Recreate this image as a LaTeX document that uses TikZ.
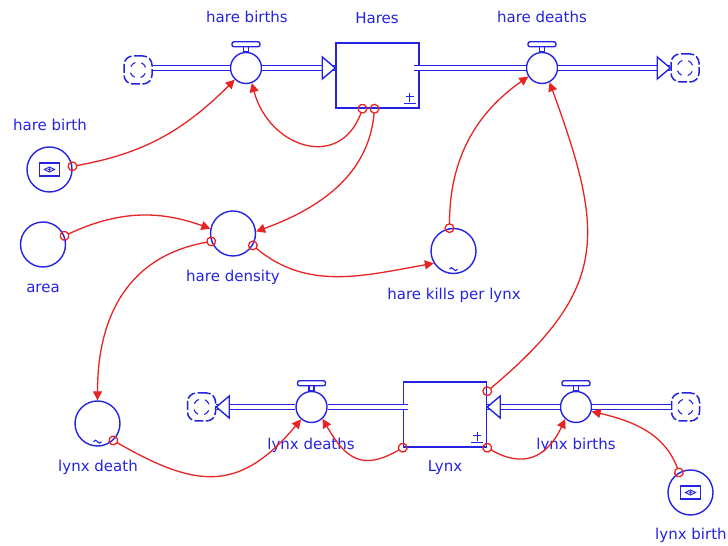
\documentclass[tikz,border=0pt]{standalone}
\usepackage{fontspec}
\setmainfont{DejaVu Sans}
\usetikzlibrary{arrows.meta}
\definecolor{sdblue}{RGB}{35,35,225}
\definecolor{sdred}{RGB}{232,35,35}
% hollow head at the end of a flow pipe: #1 = tip, #2 = 1 (right) or -1 (left)
\newcommand\pipetip[2]{\draw[sdline, fill=white] (#1) -- ++({#2*-13},11) -- ++(0,-22) -- cycle;}

\begin{document}
\begin{tikzpicture}[x=1pt,y=1pt,
  stock/.style={draw=sdblue, line width=1.5pt, minimum width=83pt, minimum height=65pt, inner sep=0pt},
  valve/.style={circle, draw=sdblue, line width=1.4pt, minimum size=31pt, inner sep=0pt, fill=white},
  conv/.style={circle, draw=sdblue, line width=1.4pt, minimum size=45pt, inner sep=0pt},
  cloudsym/.style={draw=sdblue, line width=1.5pt, rounded corners=9pt, minimum size=28pt, inner sep=0pt, dash pattern=on 9pt off 2.5pt},
  lbl/.style={text=sdblue, font=\fontsize{15}{18}\selectfont, inner sep=0pt},
  pipe/.style={draw=sdblue, line width=1.3pt, double=white, double distance=3.5pt},
  link/.style={draw=sdred, line width=1.3pt, {Circle[open,length=10pt,width=10pt]}-{Triangle[length=9pt,width=9pt]}, shorten <=-5pt},
  sdline/.style={draw=sdblue, line width=1.4pt}]
\useasboundingbox (0,0) rectangle (728,546);

% stocks, valves, sources and sinks
\node[stock] (hares) at (377.5,470.5) {};
\node[stock] (lynx) at (445,131.5) {};
\node[valve] (hbirths) at (246,478) {};
\node[valve] (hdeaths) at (542,478) {};
\node[valve] (ldeaths) at (311.5,139) {};
\node[valve] (lbirths) at (576,139) {};
\node[cloudsym] (csrc) at (138,476) {};
\node[cloudsym] (csink) at (685,478) {};
\node[cloudsym] (lsink) at (201.5,139) {};
\node[cloudsym] (lsrc) at (685.5,139) {};

% flow pipes
\draw[pipe] (csrc.east |- hbirths) -- (hbirths.west);
\draw[pipe] (hbirths.east) -- (hares.west |- hbirths);
\pipetip{hares.west |- hbirths}{1}
\draw[pipe] ([xshift=-6pt]hares.east |- hdeaths) -- (hdeaths.west);
\draw[pipe] (hdeaths.east) -- (csink.west |- hdeaths);
\pipetip{csink.west |- hdeaths}{1}
\draw[pipe] (lsink.east) -- (ldeaths.west);
\pipetip{lsink.east}{-1}
\draw[pipe] (ldeaths.east) -- ([xshift=5pt]lynx.west |- ldeaths);
\draw[pipe] (lsrc.west) -- (lbirths.east);
\draw[pipe] (lbirths.west) -- (lynx.east |- lbirths);
\pipetip{lynx.east |- lbirths}{-1}

\foreach \v in {hbirths,hdeaths,ldeaths,lbirths}{
  \draw[sdline] ([xshift=-2.5pt]\v.north) rectangle ([xshift=2.5pt,yshift=5pt]\v.north);
  \draw[sdline, rounded corners=2pt] ([xshift=-14pt,yshift=5pt]\v.north) rectangle ([xshift=14pt,yshift=10pt]\v.north);
}
\foreach \s in {hares,lynx}{
  \draw[sdline, line width=1.1pt] ([shift={(-10pt,7pt)}]\s.south east) -- ++(0,9pt)
    ([shift={(-14pt,12pt)}]\s.south east) -- ++(8pt,0)
    ([shift={(-16pt,5pt)}]\s.south east) -- ++(12pt,0);
}
\foreach \c in {csrc,csink,lsink,lsrc}
  \foreach \a in {20,110,200,290}
    \draw[sdline, line width=1.1pt] (\c.center) ++(\a:8pt) arc[start angle=\a, delta angle=45, radius=8pt];

% converters
\node[conv] (hbirth) at (49.5,376.5) {};
\node[conv] (area) at (43,301.5) {};
\node[conv] (hdens) at (233,312.5) {};
\node[conv] (hkills) at (453.5,295) {};
\node[conv] (ldeath) at (97.5,122.5) {};
\node[conv] (lbirth) at (690.5,53.5) {};
\foreach \n in {hbirth,lbirth}{
  \draw[sdline] ([shift={(-10pt,-6.5pt)}]\n.center) rectangle ([shift={(10pt,6.5pt)}]\n.center);
  \draw[sdline, line width=1.1pt] ([xshift=-5pt]\n.center) -- ([yshift=2.5pt]\n.center) -- ([xshift=5pt]\n.center) -- ([yshift=-2.5pt]\n.center) -- cycle;
  \fill[sdblue] (\n.center) circle (1.3pt);
}
\foreach \n in {hkills,ldeath}
  \draw[sdline, line width=1.1pt] ([shift={(-4pt,5pt)}]\n.south) sin ++(2pt,1.5pt) cos ++(2pt,-1.5pt) sin ++(2pt,-1.5pt) cos ++(2pt,1.5pt);

% labels
\node[lbl] (hbirths-t) at (247,529) {hare births};
\node[lbl] (hares-t) at (377,528) {Hares};
\node[lbl] (hdeaths-t) at (542,529) {hare deaths};
\node[lbl] (hbirth-t) at (50,421) {hare birth};
\node[lbl] (area-t) at (43,258) {area};
\node[lbl] (hdens-t) at (233,269) {hare density};
\node[lbl] (hkills-t) at (454,251) {hare kills per lynx};
\node[lbl] (ldeath-t) at (98,79) {lynx death};
\node[lbl] (ldeaths-t) at (311,101) {lynx deaths};
\node[lbl] (lynx-t) at (445,78) {Lynx};
\node[lbl] (lbirths-t) at (576,101) {lynx births};
\node[lbl, anchor=west] (lbirth-t) at (655,11) {lynx birth};

% information links
\draw[link] (hbirth.8) to[out=10,in=225] (hbirths.226);
\draw[link] ([xshift=-15pt]hares.south) to[out=-110,in=-75,looseness=1.5] (hbirths.-69);
\draw[link] ([xshift=-3pt]hares.south) to[out=-95,in=20] (hdens.5);
\draw[link] (area.22) to[out=25,in=160] (hdens.168);
\draw[link] (hdens.200) to[out=190,in=90,looseness=1.1] (ldeath.90);
\draw[link] (hdens.-31) to[out=-40,in=190] (hkills.212);
\draw[link] (hkills.100) to[out=90,in=215] (hdeaths.212);
\draw[link] ([yshift=-10pt]lynx.north east) to[out=40,in=-70,looseness=1.3] (hdeaths.-62);
\draw[link] (ldeath.-47) to[out=-30,in=230,looseness=1.3] (ldeaths.-130);
\draw[link] (lynx.south west) to[out=210,in=-60,looseness=1.4] (ldeaths.-47);
\draw[link] (lynx.south east) to[out=-30,in=-115,looseness=1.3] (lbirths.-132);
\draw[link] (lbirth.120) to[out=110,in=-13] (lbirths.-16);
\end{tikzpicture}
\end{document}
